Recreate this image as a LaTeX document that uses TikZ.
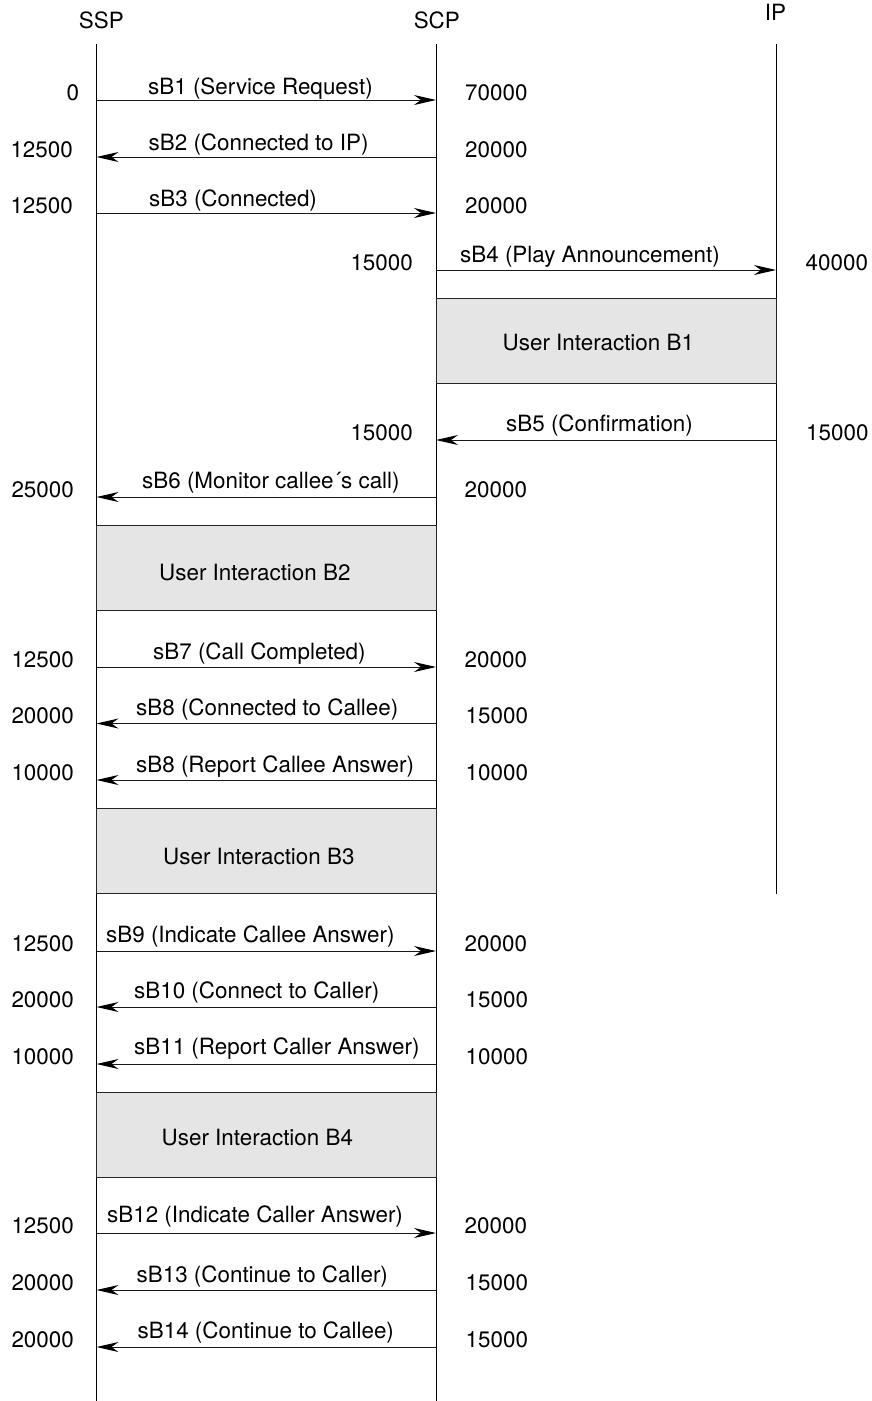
\documentclass[tikz,border=0pt]{standalone}
\usepackage{fontspec}
\setmainfont{TeX Gyre Heros}
\usetikzlibrary{arrows.meta}

\begin{document}
\begin{tikzpicture}[x=1pt,y=-1pt,
  every node/.style={inner sep=0pt,font=\fontsize{22.4}{26}\selectfont},
  lifeline/.style={line width=1pt,black},
  msg/.style={line width=1pt,black!90,-{Stealth[length=22pt,width=10pt,inset=7pt,color=black,fill=black]}},
  uibox/.style={draw=black!85,line width=1pt,fill=black!10},
  lbl/.style={anchor=base west},
  lnum/.style={anchor=base east},
  rnum/.style={anchor=base west},
  head/.style={anchor=base}]
\useasboundingbox (0,0) rectangle (872,1401);

% lifeline x positions
\def\xa{96.5}\def\xb{436}\def\xc{776}

% column headers
\node[head] (hssp) at (101.3,28.3) {SSP};
\node[head] (hscp) at (436.8,28) {SCP};
\node[head] (hip)  at (775.5,20.7) {IP};

% lifelines
\coordinate (ssptop) at (\xa,44);  \coordinate (sspbot) at (\xa,1401);
\coordinate (scptop) at (\xb,44);  \coordinate (scpbot) at (\xb,1401);
\coordinate (iptop)  at (\xc,44);  \coordinate (ipbot)  at (\xc,893.5);
\draw[lifeline] (ssptop) -- (sspbot);
\draw[lifeline] (scptop) -- (scpbot);
\draw[lifeline] (iptop) -- (ipbot);

% user interaction blocks
\path[uibox] (\xb,298) rectangle (\xc,383.5);
\node[lbl] (ub1) at (502.5,350) {User Interaction B1};
\path[uibox] (\xa,525) rectangle (\xb,610);
\node[lbl] (ub2) at (159,580) {User Interaction B2};
\path[uibox] (\xa,808.5) rectangle (\xb,893.5);
\node[lbl] (ub3) at (163,864) {User Interaction B3};
\path[uibox] (\xa,1092) rectangle (\xb,1177);
\node[lbl] (ub4) at (161.5,1145) {User Interaction B4};

% message end points on the lifelines
\foreach \n/\y in {1/100,2/157,3/213,6/497,7/667,8/723.5,9/780,10/951,11/1007,12/1064,13/1233,14/1290,15/1347}{
  \coordinate (s\n) at (\xa,\y);
  \coordinate (c\n) at (\xb,\y);
}
\coordinate (c4) at (\xb,270);   \coordinate (i4) at (\xc,270);
\coordinate (c5) at (\xb,440);   \coordinate (i5) at (\xc,440);

% messages
\draw[msg] (s1) -- (c1);
\node[lbl] (m1) at (148,94) {sB1 (Service Request)};
\node[lnum] (l1) at (79.3,100) {0};
\node[rnum] (r1) at (465,100) {70000};

\draw[msg] (c2) -- (s2);
\node[lbl] (m2) at (148.5,150.5) {sB2 (Connected to IP)};
\node[lnum] (l2) at (73,157) {12500};
\node[rnum] (r2) at (465,157) {20000};

\draw[msg] (s3) -- (c3);
\node[lbl] (m3) at (149,206.5) {sB3 (Connected)};
\node[lnum] (l3) at (73,213) {12500};
\node[rnum] (r3) at (465,213) {20000};

\draw[msg] (c4) -- (i4);
\node[lbl] (m4) at (460,262.5) {sB4 (Play Announcement)};
\node[lnum] (l4) at (413,270) {15000};
\node[rnum] (r4) at (805.5,270) {40000};

\draw[msg] (i5) -- (c5);
\node[lbl] (m5) at (506,431) {sB5 (Confirmation)};
\node[lnum] (l5) at (413,440) {15000};
\node[rnum] (r5) at (806,440) {15000};

\draw[msg] (c6) -- (s6);
\node[lbl] (m6) at (142,488) {sB6 (Monitor callee\textasciiacute s call)};
\node[lnum] (l6) at (74,497) {25000};
\node[rnum] (r6) at (464.5,497) {20000};

\draw[msg] (s7) -- (c7);
\node[lbl] (m7) at (153,659) {sB7 (Call Completed)};
\node[lnum] (l7) at (74,667) {12500};
\node[rnum] (r7) at (464.5,667) {20000};

\draw[msg] (c8) -- (s8);
\node[lbl] (m8) at (136,715.5) {sB8 (Connected to Callee)};
\node[lnum] (l8) at (74,723.5) {20000};
\node[rnum] (r8) at (465.5,723.5) {15000};

\draw[msg] (c9) -- (s9);
\node[lbl] (m9) at (136,772) {sB8 (Report Callee Answer)};
\node[lnum] (l9) at (74,780) {10000};
\node[rnum] (r9) at (465.5,780) {10000};

\draw[msg] (s10) -- (c10);
\node[lbl] (m10) at (106,942) {sB9 (Indicate Callee Answer)};
\node[lnum] (l10) at (74,951) {12500};
\node[rnum] (r10) at (464.5,951) {20000};

\draw[msg] (c11) -- (s11);
\node[lbl] (m11) at (134,998) {sB10 (Connect to Caller)};
\node[lnum] (l11) at (74,1007) {20000};
\node[rnum] (r11) at (465.5,1007) {15000};

\draw[msg] (c12) -- (s12);
\node[lbl] (m12) at (134,1054.5) {sB11 (Report Caller Answer)};
\node[lnum] (l12) at (74,1064) {10000};
\node[rnum] (r12) at (465.5,1064) {10000};

\draw[msg] (s13) -- (c13);
\node[lbl] (m13) at (107,1222) {sB12 (Indicate Caller Answer)};
\node[lnum] (l13) at (74,1233) {12500};
\node[rnum] (r13) at (464.5,1233) {20000};

\draw[msg] (c14) -- (s14);
\node[lbl] (m14) at (136.5,1282) {sB13 (Continue to Caller)};
\node[lnum] (l14) at (74,1290) {20000};
\node[rnum] (r14) at (465.5,1290) {15000};

\draw[msg] (c15) -- (s15);
\node[lbl] (m15) at (137.5,1338) {sB14 (Continue to Callee)};
\node[lnum] (l15) at (74,1347) {20000};
\node[rnum] (r15) at (465.5,1347) {15000};
\end{tikzpicture}
\end{document}
